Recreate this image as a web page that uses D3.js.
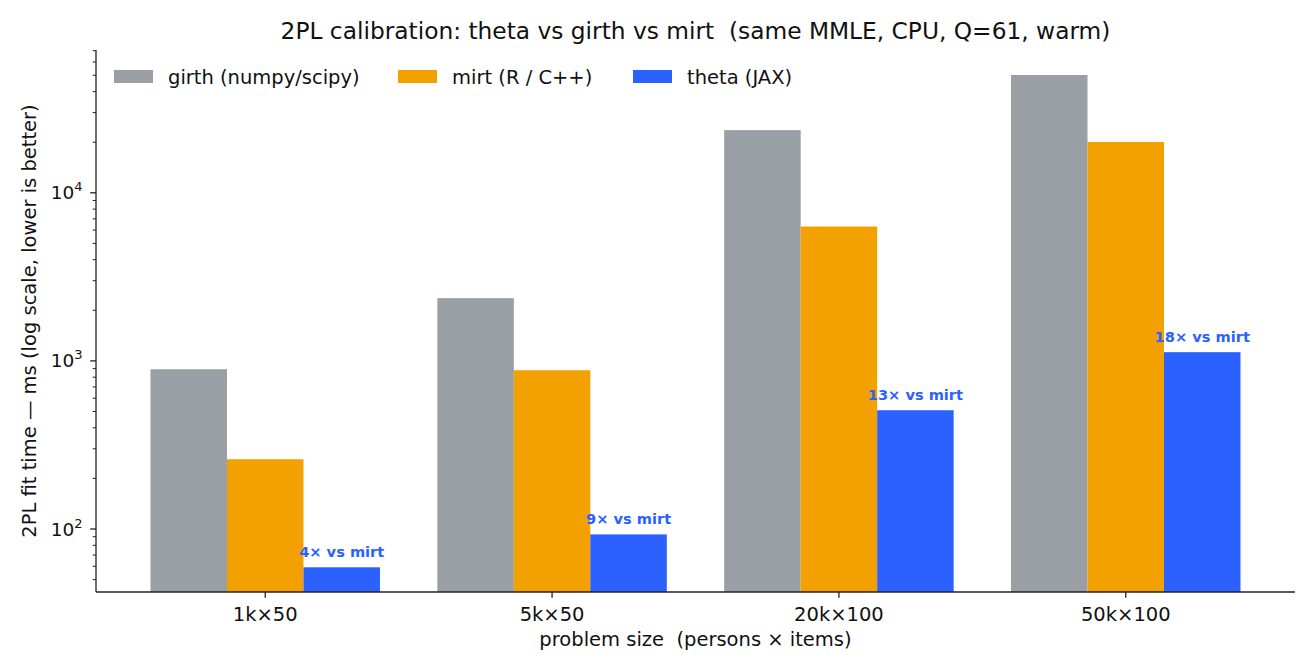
<!DOCTYPE html>
<html>
<head>
<meta charset="utf-8">
<script src="https://cdn.jsdelivr.net/npm/d3@7"></script>
<style>
	html, body { margin: 0; padding: 0; background: #fff; }
	svg { display: block; font-family: 'DejaVu Sans', sans-serif; }
	text { white-space: pre; }
</style>
</head>
<body>
<svg id="chart"></svg>
<script>
const WIDTH = 1316;
const HEIGHT = 672;

const categories = ['1k×50', '5k×50', '20k×100', '50k×100'];
const seriesNames = ['girth (numpy/scipy)', 'mirt (R / C++)', 'theta (JAX)'];
const seriesKeys = ['girth', 'mirt', 'theta'];
const girthMs = [892, 2362, 23600, 50200];
const mirtMs = [260, 880, 6301, 20040];
const thetaMs = [59.2, 92.9, 508.8, 1127];
const speedupLabels = ['4× vs mirt', '9× vs mirt', '13× vs mirt', '18× vs mirt'];
const colors = ['#9a9fa6', '#f2a100', '#2b62ff'];

const margin = { top: 50, right: 21, bottom: 80, left: 96 };
const FONT = '19.5px';

const rows = categories.map((c, i) => ({
	category: c,
	girth: girthMs[i],
	mirt: mirtMs[i],
	theta: thetaMs[i],
	label: speedupLabels[i]
}));

const svg = d3.select('#chart').attr('width', WIDTH).attr('height', HEIGHT);

const x = d3
	.scaleBand()
	.domain(categories)
	.range([margin.left, WIDTH - margin.right])
	.paddingInner(0.2)
	.paddingOuter(0.19);

const xInner = d3.scaleBand().domain(seriesKeys).range([0, x.bandwidth()]).padding(0);

const y = d3
	.scaleLog()
	.domain([42.2, 70700])
	.range([HEIGHT - margin.bottom, margin.top]);

const color = d3.scaleOrdinal().domain(seriesKeys).range(colors);

// BARS
const groups = svg
	.append('g')
	.selectAll('g')
	.data(rows)
	.enter()
	.append('g')
	.attr('transform', (d) => `translate(${x(d.category)},0)`);

groups
	.selectAll('rect')
	.data((d) => seriesKeys.map((k) => ({ key: k, value: d[k] })))
	.enter()
	.append('rect')
	.attr('x', (d) => xInner(d.key))
	.attr('width', xInner.bandwidth())
	.attr('y', (d) => y(d.value))
	.attr('height', (d) => y.range()[0] - y(d.value))
	.attr('fill', (d) => color(d.key));

groups
	.append('text')
	.attr('x', xInner('theta') + xInner.bandwidth() / 2)
	.attr('y', (d) => y(d.theta) - 10)
	.attr('text-anchor', 'middle')
	.attr('fill', colors[2])
	.attr('font-size', '14.6px')
	.attr('font-weight', 'bold')
	.text((d) => d.label);

// AXES
const majorTicks = [100, 1000, 10000];
const minorTicks = y.ticks(40).filter((t) => !majorTicks.includes(t));
const sup = { 2: '2', 3: '3', 4: '4' };

const yAxis = svg.append('g').attr('transform', `translate(${margin.left},0)`);
yAxis
	.append('line')
	.attr('y1', y.range()[0])
	.attr('y2', y.range()[1])
	.attr('stroke', '#222')
	.attr('stroke-width', 1.3);
yAxis
	.selectAll('.minor')
	.data(minorTicks)
	.enter()
	.append('line')
	.attr('x1', -3.3)
	.attr('x2', 0)
	.attr('y1', (d) => y(d))
	.attr('y2', (d) => y(d))
	.attr('stroke', '#222')
	.attr('stroke-width', 1);
const majors = yAxis
	.selectAll('.major')
	.data(majorTicks)
	.enter()
	.append('g')
	.attr('transform', (d) => `translate(0,${y(d)})`);
majors
	.append('line')
	.attr('x1', -5.8)
	.attr('x2', 0)
	.attr('stroke', '#222')
	.attr('stroke-width', 1.3);
const majorText = majors
	.append('text')
	.attr('x', -13.5)
	.attr('y', 6.5)
	.attr('text-anchor', 'end')
	.attr('font-size', '18.5px')
	.attr('fill', '#111');
majorText.append('tspan').text('10');
majorText
	.append('tspan')
	.attr('dy', -8)
	.attr('font-size', '13px')
	.text((d) => sup[Math.round(Math.log10(d))]);

const xAxis = svg.append('g').attr('transform', `translate(0,${y.range()[0]})`);
xAxis
	.append('line')
	.attr('x1', margin.left)
	.attr('x2', WIDTH - margin.right)
	.attr('stroke', '#222')
	.attr('stroke-width', 1.3);
const xTicks = xAxis
	.selectAll('.tick')
	.data(categories)
	.enter()
	.append('g')
	.attr('transform', (d) => `translate(${x(d) + x.bandwidth() / 2},0)`);
xTicks.append('line').attr('y2', 5.8).attr('stroke', '#222').attr('stroke-width', 1.3);
xTicks
	.append('text')
	.attr('y', 29)
	.attr('text-anchor', 'middle')
	.attr('font-size', FONT)
	.attr('fill', '#111')
	.text((d) => d);

// LABELS
svg
	.append('text')
	.attr('x', (margin.left + WIDTH - margin.right) / 2)
	.attr('y', 646)
	.attr('text-anchor', 'middle')
	.attr('font-size', FONT)
	.attr('fill', '#111')
	.text('problem size  (persons × items)');

svg
	.append('text')
	.attr('transform', `translate(36,${(margin.top + y.range()[0]) / 2}) rotate(-90)`)
	.attr('text-anchor', 'middle')
	.attr('font-size', FONT)
	.attr('fill', '#111')
	.text('2PL fit time — ms (log scale, lower is better)');

svg
	.append('text')
	.attr('x', (margin.left + WIDTH - margin.right) / 2)
	.attr('y', 39)
	.attr('text-anchor', 'middle')
	.attr('font-size', '23.3px')
	.attr('fill', '#111')
	.text('2PL calibration: theta vs girth vs mirt  (same MMLE, CPU, Q=61, warm)');

// LEGEND
const legendX = [114, 398, 633];
const legend = svg
	.append('g')
	.selectAll('g')
	.data(seriesNames)
	.enter()
	.append('g')
	.attr('transform', (d, i) => `translate(${legendX[i]},70)`);
legend
	.append('rect')
	.attr('width', 39)
	.attr('height', 13)
	.attr('fill', (d, i) => colors[i]);
legend
	.append('text')
	.attr('x', 54)
	.attr('y', 13.5)
	.attr('font-size', FONT)
	.attr('fill', '#111')
	.text((d) => d);
</script>
</body>
</html>
